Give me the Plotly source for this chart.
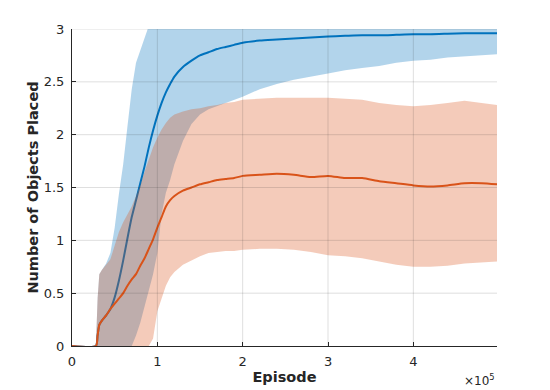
import plotly.graph_objects as go

# Episodes (thousands)
episodes_k = [0, 28, 30, 32, 35, 40, 45, 50, 55, 60, 65, 70, 75, 80, 85, 90, 95, 100,
              105, 110, 115, 120, 130, 140, 150, 160, 170, 180, 190, 200, 220, 240, 260,
              280, 300, 320, 340, 360, 380, 400, 420, 440, 460, 480, 498]

blue_mean = [0, 0, 0.10, 0.20, 0.24, 0.29, 0.35, 0.46, 0.62, 0.81, 1.02, 1.22, 1.38, 1.54,
             1.70, 1.88, 2.04, 2.18, 2.30, 2.40, 2.48, 2.55, 2.64, 2.70, 2.75, 2.78, 2.81,
             2.83, 2.85, 2.87, 2.89, 2.90, 2.91, 2.92, 2.93, 2.935, 2.94, 2.94, 2.945, 2.95,
             2.95, 2.955, 2.96, 2.96, 2.96]
blue_upper = [0, 0, 0.45, 0.68, 0.72, 0.78, 0.88, 1.12, 1.44, 1.72, 2.08, 2.43, 2.68, 2.80,
              2.92, 3.03, 3.12, 3.20, 3.28, 3.33, 3.38, 3.40, 3.40, 3.35, 3.32, 3.30, 3.30,
              3.30, 3.30, 3.30, 3.28, 3.27, 3.25, 3.24, 3.23, 3.22, 3.22, 3.21, 3.20, 3.20,
              3.19, 3.18, 3.18, 3.17, 3.16]
blue_lower = [0, 0, 0, 0, 0, 0, 0, 0, 0, 0, 0, 0, 0.10, 0.22, 0.38, 0.52, 0.68, 0.88,
              1.25, 1.45, 1.57, 1.72, 1.94, 2.10, 2.19, 2.24, 2.27, 2.30, 2.33, 2.36, 2.43,
              2.48, 2.52, 2.55, 2.58, 2.61, 2.63, 2.65, 2.68, 2.70, 2.71, 2.73, 2.74, 2.75,
              2.76]

orange_mean = [0, 0, 0.10, 0.20, 0.24, 0.29, 0.35, 0.40, 0.45, 0.50, 0.57, 0.63, 0.68, 0.76,
               0.83, 0.92, 1.01, 1.12, 1.22, 1.32, 1.38, 1.42, 1.47, 1.50, 1.53, 1.55, 1.57,
               1.58, 1.59, 1.61, 1.62, 1.63, 1.62, 1.60, 1.61, 1.59, 1.59, 1.56, 1.54, 1.52,
               1.51, 1.52, 1.54, 1.54, 1.53]
orange_upper = [0, 0, 0.45, 0.68, 0.72, 0.77, 0.82, 0.95, 1.08, 1.17, 1.25, 1.32, 1.42, 1.52,
                1.65, 1.77, 1.88, 1.97, 2.05, 2.11, 2.16, 2.19, 2.22, 2.24, 2.25, 2.27, 2.28,
                2.30, 2.31, 2.33, 2.34, 2.35, 2.35, 2.35, 2.35, 2.34, 2.33, 2.30, 2.28, 2.27,
                2.28, 2.30, 2.32, 2.30, 2.28]
orange_lower = [0, 0, 0, 0, 0, 0, 0, 0, 0, 0, 0, 0, 0, 0, 0, 0, 0.07, 0.33, 0.46, 0.57,
                0.65, 0.70, 0.77, 0.81, 0.85, 0.88, 0.89, 0.90, 0.90, 0.91, 0.92, 0.92, 0.91,
                0.89, 0.86, 0.85, 0.83, 0.80, 0.77, 0.75, 0.75, 0.76, 0.78, 0.79, 0.80]

x_ticks = [0, 1, 2, 3, 4]
y_ticks = [0, 0.5, 1, 1.5, 2, 2.5, 3]
x_scale = 1e5

x = [e * 1000 for e in episodes_k]

TXT = "#262626"
FONT = "DejaVu Sans"

fig = go.Figure()

def band(lower, upper, color):
    return go.Scatter(x=x + x[::-1], y=upper + lower[::-1], fill="toself",
                      fillcolor=color, line=dict(width=0), mode="lines",
                      hoverinfo="skip", showlegend=False)

fig.add_trace(band(blue_lower, blue_upper, "rgba(0,114,189,0.3)"))
fig.add_trace(go.Scatter(x=x, y=blue_mean, mode="lines",
                         line=dict(color="#0072BD", width=2, shape="spline", smoothing=0.6),
                         showlegend=False))
fig.add_trace(band(orange_lower, orange_upper, "rgba(217,83,25,0.3)"))
fig.add_trace(go.Scatter(x=x, y=orange_mean, mode="lines",
                         line=dict(color="#D95319", width=2, shape="spline", smoothing=0.6),
                         showlegend=False))

# grid lines drawn above the fills (MATLAB style)
grid_color = "rgba(38,38,38,0.15)"
for t in x_ticks[1:]:
    fig.add_shape(type="line", xref="x", yref="paper", x0=t * x_scale, x1=t * x_scale,
                  y0=0, y1=1, line=dict(color=grid_color, width=1), layer="above")
for t in y_ticks[1:]:
    fig.add_shape(type="line", xref="paper", yref="y", x0=0, x1=1, y0=t, y1=t,
                  line=dict(color=grid_color, width=1), layer="above")

fig.update_xaxes(range=[0, episodes_k[-1] * 1000], tickvals=[t * x_scale for t in x_ticks],
                 ticktext=[str(t) for t in x_ticks], showgrid=False, zeroline=False,
                 showline=True, linecolor=TXT, linewidth=1, ticks="inside", ticklen=4,
                 tickcolor=TXT, tickfont=dict(family=FONT, size=13, color=TXT),
                 ticklabelstandoff=3, layer="above traces", automargin=False,
                 title=dict(text="<b>Episode</b>", font=dict(family=FONT, size=14.5, color=TXT),
                            standoff=4))
fig.update_yaxes(range=[0, 3], tickvals=y_ticks, ticktext=[f"{t:g}" for t in y_ticks],
                 showgrid=False, zeroline=False, showline=True, linecolor=TXT, linewidth=1,
                 ticks="inside", ticklen=4, tickcolor=TXT,
                 tickfont=dict(family=FONT, size=13, color=TXT), ticklabelstandoff=4,
                 layer="above traces", automargin=False,
                 title=dict(text="<b>Number of Objects Placed</b>",
                            font=dict(family=FONT, size=14.5, color=TXT), standoff=1))

fig.add_annotation(text="×10<sup>5</sup>", xref="paper", yref="paper", x=1.0, y=-0.075,
                   xanchor="right", yanchor="top", showarrow=False,
                   font=dict(family=FONT, size=12, color=TXT))

fig.update_layout(width=550, height=390, margin=dict(l=72, r=53, t=29, b=44),
                  paper_bgcolor="white", plot_bgcolor="white", showlegend=False)

fig.write_html("out.html", config={"displayModeBar": False},
               post_script="document.body.style.margin='0';")
